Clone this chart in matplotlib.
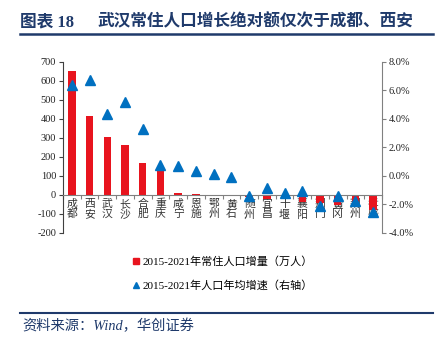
import matplotlib
matplotlib.use("Agg")
import matplotlib.pyplot as plt
from matplotlib.lines import Line2D
import numpy as np

plt.rcParams['font.family'] = ['Liberation Serif', 'Noto Sans CJK SC', 'DejaVu Sans']
plt.rcParams['axes.unicode_minus'] = False

cities = ["成都", "西安", "武汉", "长沙", "合肥", "重庆", "咸宁", "恩施", "鄂州",
          "黄石", "随州", "宜昌", "十堰", "襄阳", "荆门", "黄冈", "荆州", "孝感"]
pop_increase = [650, 413, 302, 260, 167, 140, 8, 5, 1,
                1, -10, -24, -20, -37, -43, -52, -58, -78]
growth_rate = [6.35, 6.75, 4.3, 5.15, 3.3, 0.78, 0.7, 0.35, 0.12,
               -0.12, -1.4, -0.85, -1.18, -1.05, -2.1, -1.42, -1.75, -2.55]
left_ticks = [-200, -100, 0, 100, 200, 300, 400, 500, 600, 700]
right_ticks = [-4, -2, 0, 2, 4, 6, 8]

navy = "#1F3A6B"
red = "#E8141E"
blue = "#0070C0"

fig = plt.figure(figsize=(4.44, 3.47), dpi=100)
ax = fig.add_axes([63/444, 1-232.7/347, (382-63)/444, (232.7-61.7)/347])
ax2 = ax.twinx()

x = np.arange(len(cities))
ax.bar(x, pop_increase, width=0.42, color=red, zorder=2)
ax2.plot(x, growth_rate, linestyle='none', marker='^', markersize=7, color=blue, zorder=3)

ax.set_xlim(-0.5, len(cities)-0.5)
ax.set_ylim(-200, 700)
ax.set_yticks(left_ticks)
ax.set_yticklabels([str(v) for v in left_ticks])
ax2.set_ylim(-4, 8)
ax2.set_yticks(right_ticks)
ax2.set_yticklabels([f"{v:.1f}%" for v in right_ticks])

# x axis at zero
ax.spines['bottom'].set_position(('data', 0))
ax.spines['bottom'].set_color('#808080')
ax.spines['top'].set_visible(False)
ax.spines['right'].set_visible(False)
ax.spines['left'].set_color('#404040')
for s in ['top', 'left', 'bottom']:
    ax2.spines[s].set_visible(False)
ax2.spines['right'].set_color('#808080')

ax.set_xticks(np.arange(-0.5, len(cities), 1.0))
ax.set_xticklabels([])
ax.tick_params(axis='x', which='major', length=3, color='#808080', direction='out')
ax.set_xticks(x, minor=True)
ax.set_xticklabels(["\n".join(c) for c in cities], minor=True,
                   fontsize=7.8, family=['Noto Sans CJK SC'], linespacing=1.0,
                   color='#333333')
ax.tick_params(axis='x', which='minor', length=0, pad=3)

ax.tick_params(axis='y', length=3, color='#404040', labelsize=7.5, pad=2, labelcolor='#222222')
ax2.tick_params(axis='y', length=3, color='#808080', labelsize=7.5, pad=2, labelcolor='#222222')

# legend
handles = [Line2D([], [], linestyle='none', marker='s', markersize=4.5, color=red),
           Line2D([], [], linestyle='none', marker='^', markersize=5, color=blue)]
labels = ["2015-2021年常住人口增量（万人）", "2015-2021年人口年均增速（右轴）"]
fig.legend(handles, labels, loc='upper left', bbox_to_anchor=(133/444, 1-256/347),
           frameon=False, fontsize=8, handlelength=0.6, handletextpad=0.3,
           labelspacing=1.25, borderpad=0, borderaxespad=0)

# title
fig.text(20/444, 1-22/347, "图表 18", fontsize=12, fontweight='bold', color=navy,
         va='center', ha='left', family=['Liberation Serif', 'Noto Sans CJK SC'])
fig.text(97/444, 1-22/347, "武汉常住人口增长绝对额仅次于成都、西安",
         fontsize=12, fontweight='bold', color=navy, va='center', ha='left',
         family=['Liberation Serif', 'Noto Sans CJK SC'])
fig.add_artist(Line2D([20/444, 433/444], [1-33.5/347, 1-33.5/347], color=navy, linewidth=1.8))

# footer
fig.add_artist(Line2D([20/444, 433/444], [1-312.7/347, 1-312.7/347], color=navy, linewidth=1.5))
fig.text(22/444, 1-326/347, "资料来源：Wind，华创证券", fontsize=10.3, style='italic',
         color=navy, va='center', ha='left', family=['Liberation Serif', 'Noto Sans CJK SC'])

fig.savefig("out.png", dpi=100)
